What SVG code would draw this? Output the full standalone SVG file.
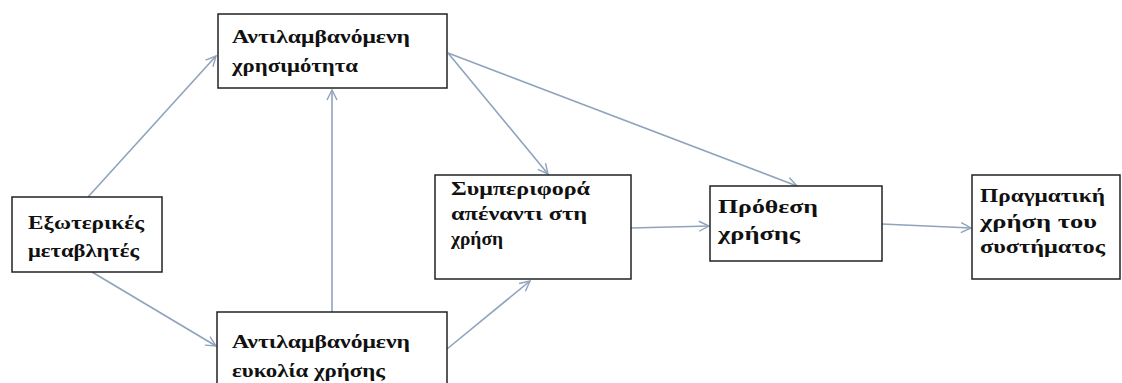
<svg xmlns="http://www.w3.org/2000/svg" width="1122" height="383" viewBox="0 0 1122 383">
<defs>
<style>
.box{fill:#fff;stroke:#222;stroke-width:1.5}
.t{font-family:"Liberation Serif","DejaVu Serif",serif;font-weight:bold;font-size:19px;fill:#111}
.c{stroke:#8fa3bd;stroke-width:1.6;fill:none;marker-end:url(#ah)}
</style>
<marker id="ah" viewBox="0 0 12 12" refX="11" refY="6" markerWidth="12" markerHeight="12" markerUnits="userSpaceOnUse" orient="auto">
<path d="M1,1 L11,6 L1,11" fill="none" stroke="#8fa3bd" stroke-width="1.4"/>
</marker>
</defs>
<rect width="1122" height="383" fill="#fff"/>
<g id="connectors">
<line class="c" x1="88" y1="197" x2="216" y2="56"/>
<line class="c" x1="92" y1="272" x2="216" y2="346"/>
<line class="c" x1="332" y1="312" x2="332" y2="90"/>
<line class="c" x1="448" y1="53" x2="548" y2="174"/>
<line class="c" x1="448" y1="53" x2="797" y2="186"/>
<line class="c" x1="447" y1="349" x2="530" y2="281"/>
<line class="c" x1="631" y1="228" x2="709" y2="226"/>
<line class="c" x1="882" y1="224" x2="971" y2="228"/>
</g>
<g id="n1">
<rect class="box" x="218" y="14" width="229" height="74"/>
<text class="t" x="232" y="43" textLength="178" lengthAdjust="spacingAndGlyphs">Αντιλαμβανόμενη</text>
<text class="t" x="232" y="72" textLength="126" lengthAdjust="spacingAndGlyphs">χρησιμότητα</text>
</g>
<g id="n2">
<rect class="box" x="12" y="197" width="150" height="75"/>
<text class="t" x="28" y="229" textLength="116" lengthAdjust="spacingAndGlyphs">Εξωτερικές</text>
<text class="t" x="28" y="257" textLength="111" lengthAdjust="spacingAndGlyphs">μεταβλητές</text>
</g>
<g id="n3">
<rect class="box" x="217" y="312" width="230" height="80"/>
<text class="t" x="232" y="348" textLength="178" lengthAdjust="spacingAndGlyphs">Αντιλαμβανόμενη</text>
<text class="t" x="232" y="377" textLength="153" lengthAdjust="spacingAndGlyphs">ευκολία χρήσης</text>
</g>
<g id="n4">
<rect class="box" x="435" y="175" width="196" height="104"/>
<text class="t" x="451" y="195" textLength="139" lengthAdjust="spacingAndGlyphs">Συμπεριφορά</text>
<text class="t" x="451" y="220" textLength="136" lengthAdjust="spacingAndGlyphs">απέναντι στη</text>
<text class="t" x="451" y="245" textLength="52" lengthAdjust="spacingAndGlyphs">χρήση</text>
</g>
<g id="n5">
<rect class="box" x="710" y="186" width="172" height="75"/>
<text class="t" x="718" y="213" textLength="100" lengthAdjust="spacingAndGlyphs">Πρόθεση</text>
<text class="t" x="718" y="240" textLength="82" lengthAdjust="spacingAndGlyphs">χρήσης</text>
</g>
<g id="n6">
<rect class="box" x="972" y="175" width="148" height="104"/>
<text class="t" x="980" y="202" textLength="125" lengthAdjust="spacingAndGlyphs">Πραγματική</text>
<text class="t" x="980" y="228" textLength="117" lengthAdjust="spacingAndGlyphs">χρήση του</text>
<text class="t" x="980" y="253" textLength="125" lengthAdjust="spacingAndGlyphs">συστήματος</text>
</g>
</svg>
